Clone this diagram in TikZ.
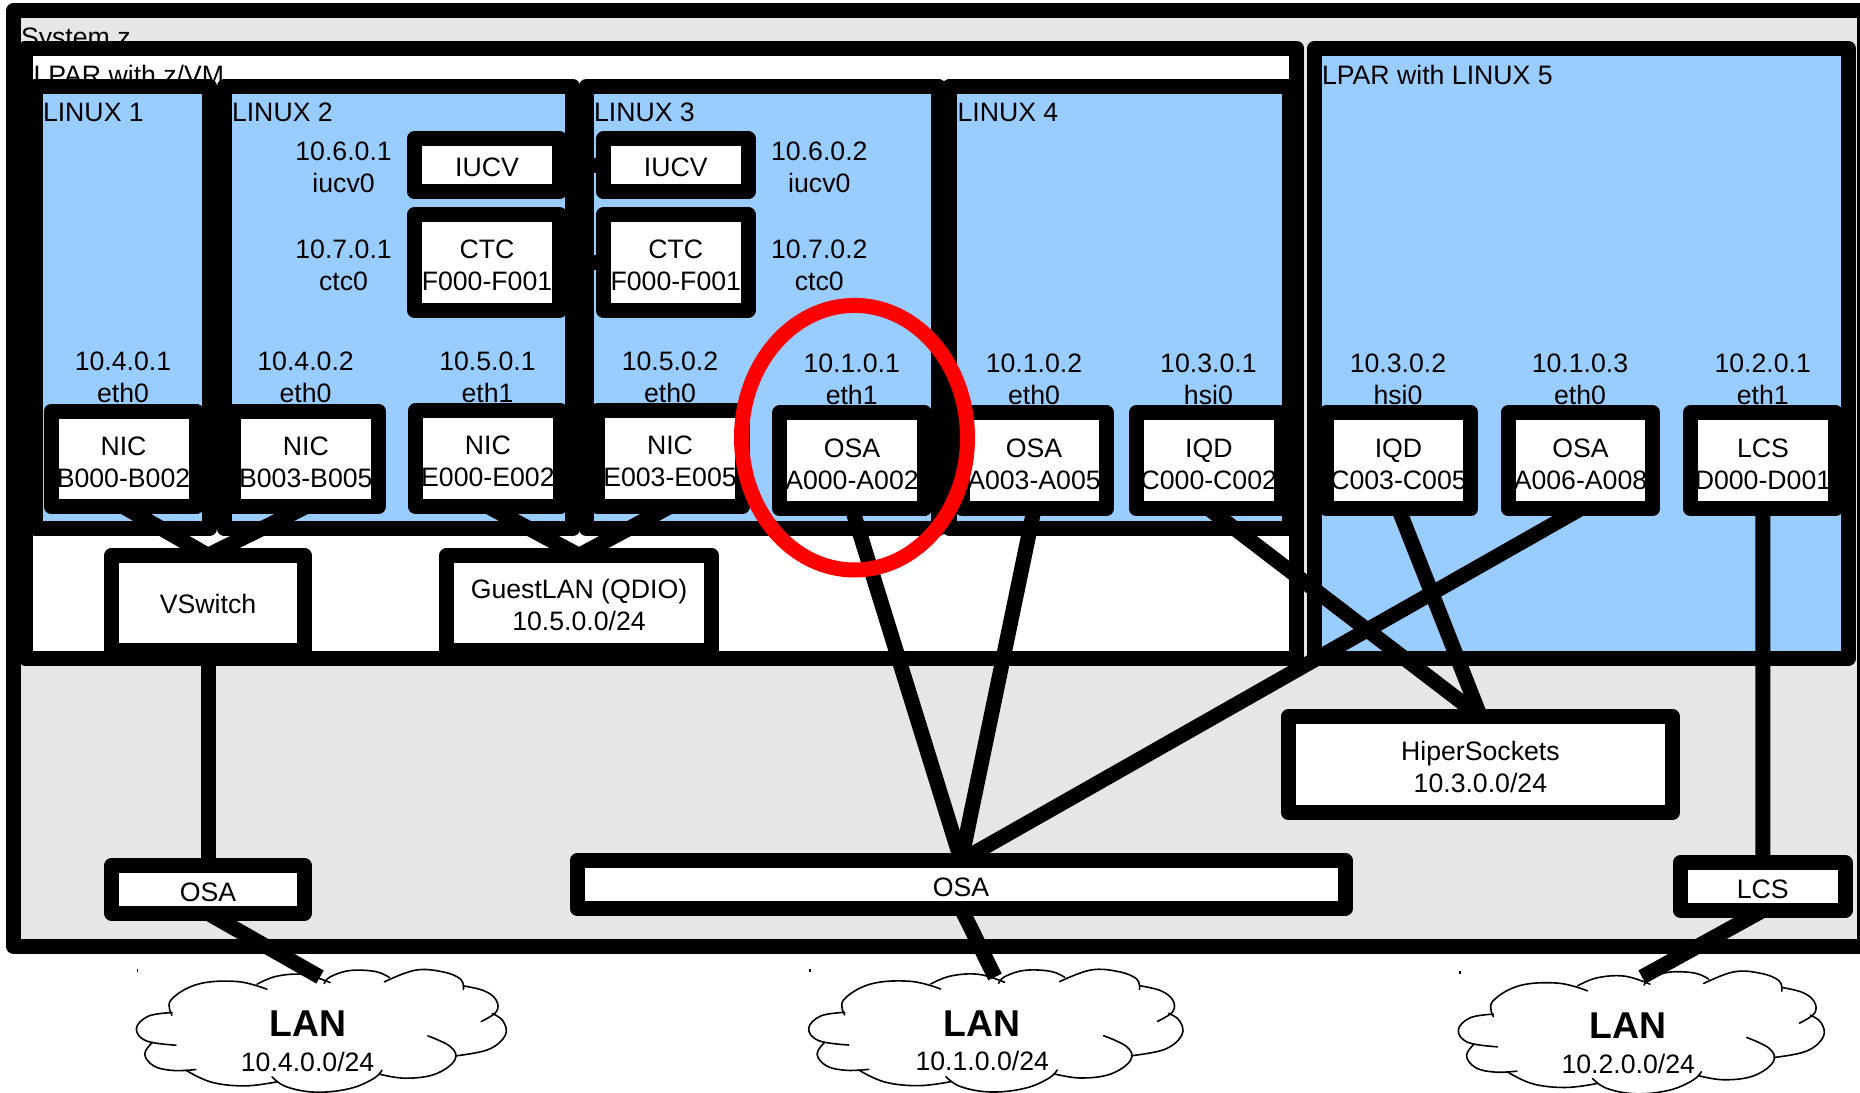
\documentclass[tikz,border=0pt]{standalone}
\usepackage{fontspec}
\setmainfont{Liberation Sans}
\usetikzlibrary{shapes.geometric}
\definecolor{sysgray}{HTML}{E6E6E6}
\definecolor{lparblue}{HTML}{99CCFF}
\tikzset{
  boxn/.style={draw=black,line width=15pt,line join=round,inner sep=0pt,outer sep=0pt,rectangle},
  conn/.style={draw=black,line width=15pt,line cap=butt},
  lbl/.style={inner sep=0pt,outer sep=0pt,anchor=base,align=center,yshift=-1pt,font=\fontsize{26.67}{32}\selectfont},
  ttl/.style={inner sep=0pt,outer sep=0pt,anchor=base west,yshift=-0.7pt,font=\fontsize{26.67}{32}\selectfont},
  lanb/.style={inner sep=0pt,outer sep=0pt,anchor=base,yshift=-0.8pt,font=\fontsize{37.33}{40}\selectfont\bfseries},
  cloudline/.style={draw=black,line width=1.6pt,line cap=round,line join=round},
}
% name, x1,y1,x2,y2 (inner edges), fill
\newcommand\bx[6]{%
  \pgfmathsetmacro\bxcx{(#2+#4)/2}%
  \pgfmathsetmacro\bxcy{(#3+#5)/2}%
  \pgfmathsetmacro\bxw{#4-#2+15}%
  \pgfmathsetmacro\bxh{#5-#3+15}%
  \node[boxn,fill=#6,minimum width=\bxw pt,minimum height=\bxh pt] (#1) at (\bxcx,\bxcy) {};%
}
\newcommand\lobes{%
  \draw[cloudline] plot[smooth,tension=0.65] coordinates {(675,627)(600,604)(500,612)(432,660)(435,705)};
  \draw[cloudline] plot[smooth,tension=0.65] coordinates {(435,697)(375,708)(345,745)(370,782)(445,795)};
  \draw[cloudline] plot[smooth,tension=0.65] coordinates {(385,787)(366,822)(390,858)(440,871)(495,868)};
  \draw[cloudline] plot[smooth,tension=0.65] coordinates {(470,870)(535,906)(620,917)(700,905)};
  \draw[cloudline] plot[smooth,tension=0.65] coordinates {(688,890)(725,920)(800,936)(885,925)(945,895)(966,870)};
  \draw[cloudline] plot[smooth,tension=0.65] coordinates {(960,882)(1025,894)(1100,882)(1150,840)(1140,800)(1082,767)};
  \draw[cloudline] plot[smooth,tension=0.65] coordinates {(1152,827)(1235,808)(1278,765)(1272,722)(1245,700)};
  \draw[cloudline] plot[smooth,tension=0.65] coordinates {(1217,724)(1255,695)(1255,660)(1225,632)(1172,617)};
  \draw[cloudline] plot[smooth,tension=0.65] coordinates {(1172,628)(1165,597)(1120,575)(1050,570)(972,605)};
  \draw[cloudline] plot[smooth,tension=0.65] coordinates {(985,592)(950,574)(885,571)(835,590)(820,610)};
  \draw[cloudline] plot[smooth,tension=0.65] coordinates {(650,612)(700,588)(770,583)(835,607)};
}
\begin{document}
\begin{tikzpicture}[x=1pt,y=-1pt]
\useasboundingbox (0,0) rectangle (1860,1092);
% outer containers
\bx{sys}{21}{18.3}{1857}{939}{sysgray}
\node[ttl] (tsys) at (21,45.6) {System z};
\bx{zvm}{33.2}{56}{1289.4}{650.8}{white}
\node[ttl] (tzvm) at (33.5,83.6) {LPAR with z/VM};
\bx{lpfive}{1321.9}{56}{1841}{650.8}{lparblue}
\node[ttl] (tlpfive) at (1322,83.3) {LPAR with LINUX 5};
\bx{lone}{42.7}{93.7}{202}{521.3}{lparblue}
\bx{ltwo}{232}{93.7}{565.4}{521.3}{lparblue}
\bx{lthree}{593.8}{93.7}{930.7}{521.3}{lparblue}
\bx{lfour}{957.3}{93.7}{1281.5}{521.3}{lparblue}
\node[ttl] (tlone) at (43,121) {LINUX 1};
\node[ttl] (tltwo) at (232,121) {LINUX 2};
\node[ttl] (tlthree) at (594,121) {LINUX 3};
\node[ttl] (tlfour) at (957.5,121) {LINUX 4};
% address labels
\node[lbl] (a1) at (343.6,191.7) {10.6.0.1\\iucv0};
\node[lbl] (a2) at (343.6,289.3) {10.7.0.1\\ctc0};
\node[lbl] (a3) at (819.3,191.7) {10.6.0.2\\iucv0};
\node[lbl] (a4) at (819.3,289.7) {10.7.0.2\\ctc0};
\node[lbl] (a5) at (123,401.7) {10.4.0.1\\eth0};
\node[lbl] (a6) at (305.6,401.7) {10.4.0.2\\eth0};
\node[lbl] (a7) at (487.5,401.7) {10.5.0.1\\eth1};
\node[lbl] (a8) at (670,401.7) {10.5.0.2\\eth0};
\node[lbl] (a9) at (851.7,403.5) {10.1.0.1\\eth1};
\node[lbl] (a10) at (1034,403.5) {10.1.0.2\\eth0};
\node[lbl] (a11) at (1208.4,403.5) {10.3.0.1\\hsi0};
\node[lbl] (a12) at (1398,403.5) {10.3.0.2\\hsi0};
\node[lbl] (a13) at (1580,403.5) {10.1.0.3\\eth0};
\node[lbl] (a14) at (1762.7,403.5) {10.2.0.1\\eth1};
% clouds
\begin{scope}[shift={(136.4,970.2)},x=0.3954pt,y=-0.3333pt,shift={(-345,-570)}]
\lobes
\end{scope}
\begin{scope}[shift={(808.7,970)},x=0.4000pt,y=-0.3333pt,shift={(-345,-570)}]
\lobes
\end{scope}
\begin{scope}[shift={(1458.3,971.8)},x=0.3912pt,y=-0.3333pt,shift={(-345,-570)}]
\lobes
\end{scope}
\fill (136.6,968.5) rectangle (138,971.5);
\fill (809.3,968.5) rectangle (810.7,971.5);
\fill (1459.2,970.5) rectangle (1460.6,973.5);
\node[lanb] (lanone) at (307.6,1035.7) {LAN};
\node[lbl] (lanonet) at (307.6,1070) {10.4.0.0/24};
\node[lanb] (lantwo) at (982.3,1036) {LAN};
\node[lbl] (lantwot) at (982.3,1069.3) {10.1.0.0/24};
\node[lanb] (lanthree) at (1628.3,1038) {LAN};
\node[lbl] (lanthreet) at (1628.3,1072) {10.2.0.0/24};
\coordinate (endone) at (320,977);
\coordinate (endtwo) at (995,977);
\coordinate (endthree) at (1642,977);
% inner boxes
\bx{iucvl}{421.9}{146}{552}{184.3}{white}
\bx{ctcl}{421.9}{222}{552}{302.7}{white}
\bx{iucvr}{611}{146.3}{740.7}{184.3}{white}
\bx{ctcr}{611}{222}{740.5}{302.7}{white}
\bx{nicone}{58.5}{418.6}{188.6}{499.3}{white}
\bx{nictwo}{240.8}{418.6}{370.9}{499.3}{white}
\bx{nicthree}{423}{418.3}{552.8}{499}{white}
\bx{nicfour}{605}{418.3}{735}{499}{white}
\bx{osaone}{787.3}{420.3}{917}{501.3}{white}
\bx{osatwo}{969.5}{420.3}{1098.8}{501.3}{white}
\bx{iqdone}{1144}{420.3}{1273.6}{501.3}{white}
\bx{iqdtwo}{1333.7}{420.3}{1463.4}{501.3}{white}
\bx{osathree}{1515.6}{420.3}{1645.3}{501.3}{white}
\bx{lcsone}{1697.9}{420.3}{1828}{501.3}{white}
\bx{vsw}{119.4}{562.8}{296.6}{643.3}{white}
\bx{glan}{454.3}{562.8}{703.8}{643.3}{white}
\bx{hip}{1295.8}{724}{1665}{805}{white}
\bx{osalow}{119.4}{872.8}{296.6}{905.8}{white}
\bx{osamid}{584.6}{868}{1337.7}{901}{white}
\bx{lcslow}{1688}{870}{1837.5}{903}{white}
% connectors
\draw[conn] (nicone.south) -- (vsw.north);
\draw[conn] (nictwo.south) -- (vsw.north);
\draw[conn] (nicthree.south) -- (glan.north);
\draw[conn] (nicfour.south) -- (glan.north);
\draw[conn] (vsw.south) -- (osalow.north);
\draw[conn] (osalow.south) -- (endone);
\draw[conn] (osaone.south) -- (osamid.north);
\draw[conn] (osatwo.south) -- (osamid.north);
\draw[conn] (osathree.south) -- (osamid.north);
\draw[conn] (osamid.south) -- (endtwo);
\draw[conn] (iqdone.south) -- (hip.north);
\draw[conn] (iqdtwo.south) -- (hip.north);
\draw[conn] (lcsone.south) -- (lcslow.north);
\draw[conn] (lcslow.south) -- (endthree);
\draw[conn] (iucvl.east) -- (iucvr.west);
\draw[conn] (ctcl.east) -- (ctcr.west);
% box texts
\node[lbl] (t1) at (487,175.7) {IUCV};
\node[lbl] (t2) at (487,289.3) {CTC\\F000-F001};
\node[lbl] (t3) at (675.8,175.7) {IUCV};
\node[lbl] (t4) at (675.8,289.3) {CTC\\F000-F001};
\node[lbl] (t5) at (123.5,486) {NIC\\B000-B002};
\node[lbl] (t6) at (305.8,486) {NIC\\B003-B005};
\node[lbl] (t7) at (487.9,485) {NIC\\E000-E002};
\node[lbl] (t8) at (670,485) {NIC\\E003-E005};
\node[lbl] (t9) at (852,488.3) {OSA\\A000-A002};
\node[lbl] (t10) at (1034,488.3) {OSA\\A003-A005};
\node[lbl] (t11) at (1208.8,488.3) {IQD\\C000-C002};
\node[lbl] (t12) at (1398.5,488.3) {IQD\\C003-C005};
\node[lbl] (t13) at (1580.5,488.3) {OSA\\A006-A008};
\node[lbl] (t14) at (1763,488.3) {LCS\\D000-D001};
\node[lbl] (t15) at (208,612.7) {VSwitch};
\node[lbl] (t16) at (579,629.3) {GuestLAN (QDIO)\\10.5.0.0/24};
\node[lbl] (t17) at (1480.4,791) {HiperSockets\\10.3.0.0/24};
\node[lbl] (t18) at (208,900) {OSA};
\node[lbl] (t19) at (961,895) {OSA};
\node[lbl] (t20) at (1762.7,897.3) {LCS};
% highlight
\node[draw=red,line width=15pt,ellipse,inner sep=0pt,outer sep=0pt,minimum width=226pt,minimum height=264.6pt] (hl) at (854.5,437.7) {};
\end{tikzpicture}
\end{document}
